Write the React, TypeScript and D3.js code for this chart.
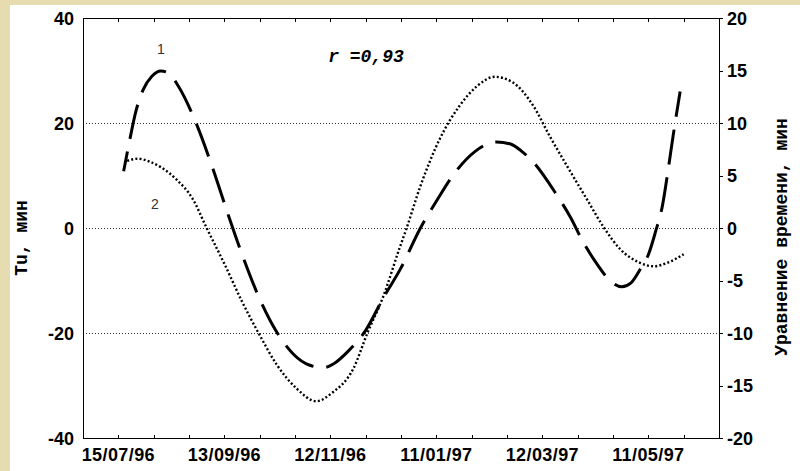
import React from "react";
import * as d3 from "d3";

// ---- data ----
const tuDates = [
  "1996-07-18", "1996-07-21", "1996-07-25", "1996-07-29", "1996-08-03", "1996-08-08",
  "1996-08-12", "1996-08-18", "1996-08-27", "1996-09-06", "1996-09-15", "1996-09-23",
  "1996-10-03", "1996-10-13", "1996-10-22", "1996-10-31", "1996-11-08", "1996-11-15",
  "1996-11-22", "1996-12-02", "1996-12-12", "1996-12-22", "1997-01-02", "1997-01-11",
  "1997-01-21", "1997-02-02", "1997-02-14", "1997-02-22", "1997-02-28", "1997-03-07",
  "1997-03-19", "1997-03-28", "1997-04-04", "1997-04-11", "1997-04-21", "1997-04-26",
  "1997-05-01", "1997-05-07", "1997-05-11", "1997-05-15", "1997-05-19", "1997-05-22",
  "1997-05-25", "1997-05-29",
];
const tuValues = [
  10.8, 16.0, 22.3, 26.3, 28.9, 29.9,
  29.6, 27.0, 20.8, 11.8, 2.7, -5.0,
  -13.5, -20.0, -24.0, -26.1, -26.6, -25.6,
  -23.5, -19.5, -13.3, -7.6, 0.0, 5.1,
  10.3, 14.6, 16.4, 16.0, 14.7, 12.5,
  6.9, 2.0, -2.6, -6.4, -10.5, -11.2,
  -10.5, -7.5, -5.1, -0.8, 4.3, 10.6,
  17.5, 26.0,
];

const eotDates = [
  "1996-07-20", "1996-07-26", "1996-08-02", "1996-08-08", "1996-08-17", "1996-08-26",
  "1996-09-03", "1996-09-13", "1996-09-23", "1996-10-03", "1996-10-13", "1996-10-24",
  "1996-11-04", "1996-11-13", "1996-11-25", "1996-12-03", "1996-12-12", "1996-12-21",
  "1996-12-25", "1997-01-02", "1997-01-13", "1997-01-24", "1997-02-03", "1997-02-13",
  "1997-02-23", "1997-03-07", "1997-03-16", "1997-03-26", "1997-04-06", "1997-04-16",
  "1997-04-25", "1997-05-06", "1997-05-14", "1997-05-22", "1997-05-31",
];
const eotValues = [
  6.4, 6.6, 6.3, 5.8, 4.6, 2.8,
  0.0, -3.4, -7.0, -10.2, -13.1, -15.3,
  -16.5, -15.7, -13.4, -10.0, -6.5, -2.0,
  -0.1, 4.0, 8.5, 11.6, 13.5, 14.4,
  13.9, 11.6, 8.8, 5.9, 2.8, 0.0,
  -2.0, -3.3, -3.65, -3.3, -2.5,
];

const xDomain = ["1996-06-25", "1997-06-20"];
const xTickLabels = ["15/07/96", "13/09/96", "12/11/96", "11/01/97", "12/03/97", "11/05/97"];
const xMinorStepDays = 20;
const leftTicks = [40, 20, 0, -20, -40];
const rightTicks = [20, 15, 10, 5, 0, -5, -10, -15, -20];
const gridValues = [20, 0, -20];

const leftTitle = "Tu, мин";
const rightTitle = "Уравнение времени, мин";
const rText = "r =0,93";

export default function App() {
  const W = 800, H = 471;
  const L = 83, R = 719, T = 18, B = 438;
  const parse = d3.timeParse("%Y-%m-%d");
  const parseLabel = d3.timeParse("%d/%m/%y");
  const x = d3.scaleTime().domain(xDomain.map((d) => parse(d) as Date)).range([L, R]);
  const yL = d3.scaleLinear().domain([-40, 40]).range([B, T]);
  const yR = d3.scaleLinear().domain([-20, 20]).range([B, T]);

  const start = parse(xDomain[0]) as Date;
  const end = parse(xDomain[1]) as Date;
  const minorTicks: Date[] = [];
  for (let d = d3.timeDay.offset(start, xMinorStepDays); d < end; d = d3.timeDay.offset(d, xMinorStepDays)) {
    minorTicks.push(d);
  }

  const tuData = tuDates.map((d, i) => ({ d: parse(d) as Date, v: tuValues[i] }));
  const eotData = eotDates.map((d, i) => ({ d: parse(d) as Date, v: eotValues[i] }));

  const lineL = d3.line<{ d: Date; v: number }>().x((p) => x(p.d)).y((p) => yL(p.v)).curve(d3.curveMonotoneX);
  const lineR = d3.line<{ d: Date; v: number }>().x((p) => x(p.d)).y((p) => yR(p.v)).curve(d3.curveMonotoneX);

  const sans = "'Liberation Sans', Arial, sans-serif";
  const mono = "'Liberation Mono', 'Courier New', monospace";

  return (
    <svg width={W} height={H} style={{ position: "absolute", left: 0, top: 0 }}>
      <rect x={0} y={0} width={W} height={H} fill="#e7dbb0" />
      <rect x={10} y={5} width={W - 10} height={H - 5} fill="#ffffff" />

      {/* grid */}
      {gridValues.map((g) => (
        <line key={g} x1={L} x2={R} y1={Math.round(yL(g)) + 0.5} y2={Math.round(yL(g)) + 0.5}
          stroke="#333" strokeWidth={1} strokeDasharray="1,2" />
      ))}

      {/* frame */}
      <rect x={L + 0.5} y={T + 0.5} width={R - L} height={B - T} fill="none" stroke="#000" strokeWidth={1} />

      {/* minor ticks top/bottom */}
      {minorTicks.map((t, i) => (
        <g key={i}>
          <line x1={Math.round(x(t)) + 0.5} x2={Math.round(x(t)) + 0.5} y1={T} y2={T + 4} stroke="#000" />
          <line x1={Math.round(x(t)) + 0.5} x2={Math.round(x(t)) + 0.5} y1={B + 1} y2={B - 3} stroke="#000" />
        </g>
      ))}

      {/* right ticks */}
      {rightTicks.map((t) => (
        <line key={t} x1={R} x2={R + 4} y1={Math.round(yR(t)) + 0.5} y2={Math.round(yR(t)) + 0.5} stroke="#000" />
      ))}

      {/* x labels */}
      {xTickLabels.map((l) => (
        <text key={l} x={x(parseLabel(l) as Date)} y={461} textAnchor="middle" letterSpacing={0.4}
          fontFamily={sans} fontWeight="bold" fontSize={18} fill="#000">{l}</text>
      ))}

      {/* left labels */}
      {leftTicks.map((t) => (
        <text key={t} x={74} y={yL(t) + 6.5} textAnchor="end"
          fontFamily={sans} fontWeight="bold" fontSize={18} fill="#000">{t}</text>
      ))}

      {/* right labels */}
      {rightTicks.map((t) => (
        <text key={t} x={727} y={yR(t) + 6.5} textAnchor="start"
          fontFamily={sans} fontWeight="bold" fontSize={18} fill="#000">{t}</text>
      ))}

      {/* curves */}
      <path d={lineR(eotData) || ""} fill="none" stroke="#000" strokeWidth={2.4} strokeDasharray="2,2.2" />
      <path d={lineL(tuData) || ""} fill="none" stroke="#000" strokeWidth={3} strokeDasharray="35,13" strokeDashoffset={15} />

      {/* annotations */}
      <text x={161} y={54} textAnchor="middle" fontFamily={sans} fontSize={14} fill="#333">1</text>
      <text x={155} y={209} textAnchor="middle" fontFamily={sans} fontSize={14} fill="#333">2</text>
      <text x={366} y={62} textAnchor="middle" fontFamily={mono} fontWeight="bold" fontStyle="italic" fontSize={18} fill="#000">{rText}</text>

      {/* axis titles */}
      <text transform="translate(21,238) rotate(-90)" textAnchor="middle" dy="0.35em"
        fontFamily={mono} fontWeight="bold" fontSize={18} fill="#000">{leftTitle}</text>
      <text transform="translate(781,237) rotate(-90)" textAnchor="middle" dy="0.35em"
        fontFamily={mono} fontWeight="bold" fontSize={18} fill="#000">{rightTitle}</text>
    </svg>
  );
}
